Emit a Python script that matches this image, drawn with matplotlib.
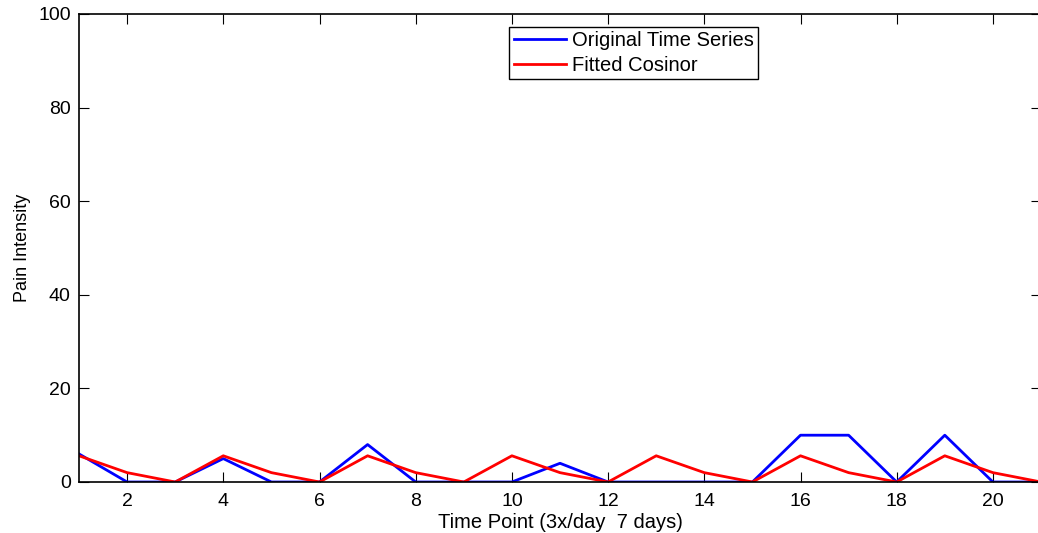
import matplotlib.pyplot as plt

plt.rcParams['font.family'] = ['Liberation Sans', 'DejaVu Sans']

# Pain scores recorded three times a day over a week
time_points = list(range(1, 22))
pain_original = [6, 0, 0, 5, 0, 0, 8, 0, 0, 0, 4, 0, 0, 0, 0, 10, 10, 0, 10, 0, 0]
pain_cosinor = [5.6, 2.0, 0, 5.6, 2.0, 0, 5.6, 2.0, 0, 5.6, 2.0, 0,
                5.6, 2.0, 0, 5.6, 2.0, 0, 5.6, 2.0, 0]

x_ticks = [2, 4, 6, 8, 10, 12, 14, 16, 18, 20]
y_ticks = [0, 20, 40, 60, 80, 100]

fig = plt.figure(figsize=(10.38, 5.33), dpi=100)
ax = fig.add_axes([79 / 1038, 51 / 533, 962 / 1038, 468 / 533])

ax.plot(time_points, pain_original, color=(0, 0, 1), lw=2, label='Original Time Series')
ax.plot(time_points, pain_cosinor, color=(1, 0, 0), lw=2, label='Fitted Cosinor')

ax.set_xlim(1, 21)
ax.set_ylim(0, 100)
ax.set_xticks(x_ticks)
ax.set_yticks(y_ticks)
ax.tick_params(direction='in', length=7, width=0.8, labelsize=14,
               top=True, right=True)
ax.tick_params(axis='x', pad=8)
ax.tick_params(axis='y', pad=6)
for sp in ax.spines.values():
    sp.set_linewidth(1.2)

ax.set_xlabel('Time Point (3x/day  7 days)', fontsize=14.5, labelpad=2)
ax.set_ylabel('Pain Intensity', fontsize=13, labelpad=5)

leg = ax.legend(loc='upper left', bbox_to_anchor=(0.4475, 0.972), fontsize=14.5,
                fancybox=False, framealpha=1, edgecolor='black',
                handlelength=2.6, handletextpad=0.3, borderpad=0.2,
                labelspacing=0.3, borderaxespad=0)
leg.get_frame().set_linewidth(1.0)

fig.savefig('out.png', dpi=100)
